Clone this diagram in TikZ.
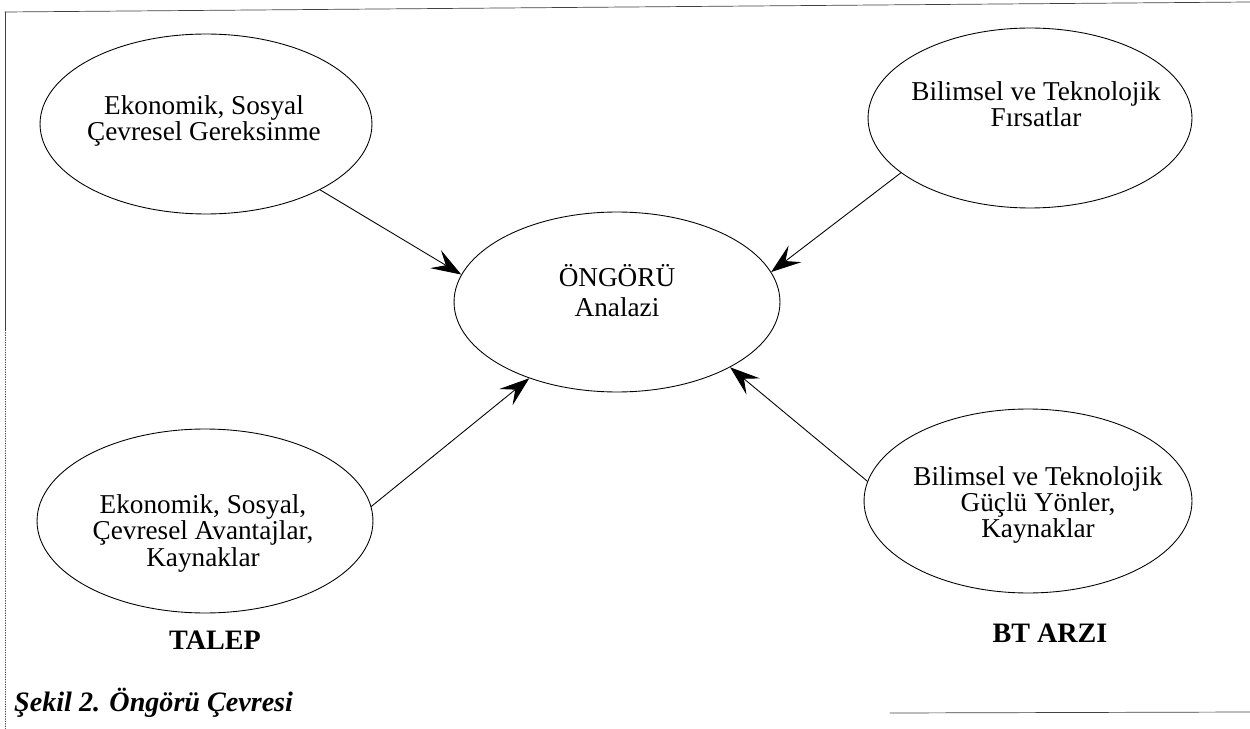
\documentclass[tikz,border=0pt]{standalone}
\usepackage{fontspec}
\setmainfont{Liberation Serif}
\usetikzlibrary{shapes.geometric,arrows.meta}
\tikzset{
  oval/.style={ellipse, draw, inner sep=0pt, line width=0.5pt},
  ovaltext/.style={align=center, inner sep=0pt, font=\fontsize{15.5}{14}\selectfont},
  side/.style={font=\fontsize{16}{18}\selectfont\bfseries},
  flow/.style={-{Stealth[length=6mm,width=4.2mm,inset=2.4mm]}, line width=0.5pt},
  scanline/.style={line width=0.4pt, black!75}
}
\begin{document}
\begin{tikzpicture}[x=0.02cm, y=-0.02cm, line join=round, line cap=round]
	\useasboundingbox (0,0) rectangle (1250,729);
	% frame left over from the scan
	\draw[scanline] (5,12)--(1250,2);
	\draw[scanline] (5,12)--(5,330);
	\draw[scanline, densely dotted] (5,330)--(5,729);
	\draw[scanline] (890,713)--(1250,712);
	% ovals
	\node[oval, minimum width=6.64cm, minimum height=3.6cm] (need) at (206,124) {};
	\node[oval, minimum width=6.48cm, minimum height=3.6cm] (chance) at (1030,118) {};
	\node[oval, minimum width=6.52cm, minimum height=3.6cm] (focus) at (617,302) {};
	\node[oval, minimum width=6.72cm, minimum height=3.68cm] (gain) at (205,521) {};
	\node[oval, minimum width=6.56cm, minimum height=3.68cm] (power) at (1028,501) {};
	% oval texts
	\node[ovaltext] (needtxt) at (204,121) {Ekonomik, Sosyal\\Çevresel Gereksinme};
	\node[ovaltext] (chancetxt) at (1036,104) {Bilimsel ve Teknolojik\\Fırsatlar};
	\node[ovaltext] (focustxt) at (617,291) {ÖNGÖRÜ\\[3pt]Analazi};
	\node[ovaltext] (gaintxt) at (203,533) {Ekonomik, Sosyal,\\Çevresel Avantajlar,\\Kaynaklar};
	\node[ovaltext] (powertxt) at (1038,505) {Bilimsel ve Teknolojik\\Güçlü Yönler,\\Kaynaklar};
	% side labels
	\node[side] (demand) at (215,640) {TALEP};
	\node[side] (supply) at (1050,633) {BT ARZI};
	\node[anchor=west, font=\fontsize{16}{18}\selectfont\bfseries\itshape] (caption) at (8,703) {Şekil 2. Öngörü Çevresi};
	% arrows
	\draw[flow] (need.-30)--(focus.170);
	\draw[flow] (chance.203)--(focus.11);
	\draw[flow] (gain.5)--(focus.-139);
	\draw[flow] (power.173)--(focus.-30);
\end{tikzpicture}
\end{document}
